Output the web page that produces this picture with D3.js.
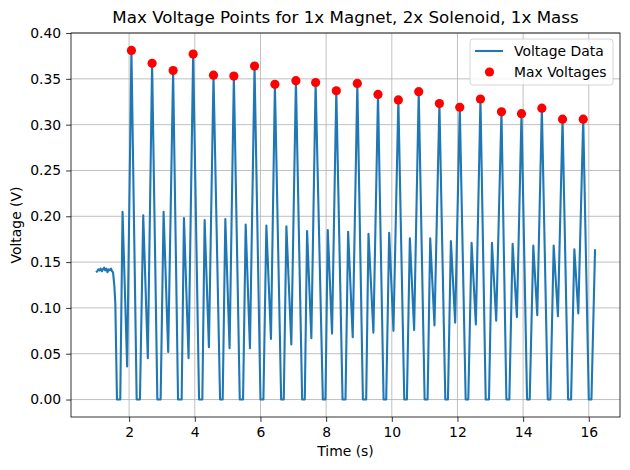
<!DOCTYPE html>
<html>
<head>
<meta charset="utf-8">
<script src="https://cdn.jsdelivr.net/npm/d3@7"></script>
<style>
  body { margin: 0; background: #fff; }
  svg { font-family: "DejaVu Sans", sans-serif; }
</style>
</head>
<body>
<div id="chart"></div>
<script>
// values

// noisy flat stretch before the magnet starts moving
var startTimes = [0.99, 1.03, 1.06, 1.10, 1.13, 1.17, 1.20, 1.24, 1.27, 1.31, 1.34, 1.38, 1.41, 1.45, 1.48, 1.51, 1.55, 1.58];
var startVolts = [0.139, 0.140, 0.142, 0.141, 0.143, 0.140, 0.142, 0.144, 0.141, 0.143, 0.139, 0.142, 0.141, 0.143, 0.140, 0.139, 0.124, 0.105];

// big peaks (these are also the red "max voltage" points)
var peakTimes = [2.07, 2.70, 3.34, 3.95, 4.57, 5.19, 5.82, 6.44, 7.08, 7.68, 8.31, 8.95,
                 9.58, 10.20, 10.82, 11.45, 12.07, 12.70, 13.34, 13.95, 14.57, 15.20, 15.83];
var peakVolts = [0.381, 0.367, 0.359, 0.377, 0.354, 0.353, 0.364, 0.344, 0.348, 0.346, 0.337, 0.345,
                 0.333, 0.327, 0.336, 0.323, 0.319, 0.328, 0.314, 0.312, 0.318, 0.306, 0.306];

// flat parts sitting on 0 V
var zeroStart = [1.63, 2.23, 2.86, 3.49, 4.13, 4.77, 5.37, 6.00, 6.63, 7.27, 7.90, 8.50,
                 9.12, 9.75, 10.38, 11.00, 11.63, 12.25, 12.86, 13.49, 14.12, 14.75, 15.37, 16.00];
var zeroEnd   = [1.73, 2.33, 2.96, 3.60, 4.23, 4.85, 5.47, 6.09, 6.71, 7.35, 7.98, 8.59,
                 9.22, 9.83, 10.46, 11.09, 11.71, 12.33, 12.96, 13.58, 14.20, 14.83, 15.46, 16.08];

// small peaks after each zero stretch (last one is the end of the record)
var smallTimes = [1.80, 2.43, 3.05, 3.67, 4.30, 4.93, 5.55, 6.18, 6.79, 7.42, 8.05, 8.67,
                  9.29, 9.92, 10.55, 11.17, 11.80, 12.43, 13.05, 13.68, 14.31, 14.93, 15.56, 16.19];
var smallVolts = [0.205, 0.201, 0.205, 0.198, 0.196, 0.197, 0.191, 0.190, 0.189, 0.184, 0.185, 0.183,
                  0.181, 0.182, 0.176, 0.176, 0.173, 0.171, 0.171, 0.170, 0.168, 0.168, 0.164, 0.164];

// dips between small peak and big peak
var dipTimes = [1.94, 2.57, 3.19, 3.81, 4.43, 5.06, 5.68, 6.32, 6.94, 7.55, 8.18, 8.81,
                9.44, 10.05, 10.68, 11.30, 11.93, 12.56, 13.18, 13.81, 14.43, 15.06, 15.68];
var dipVolts = [0.036, 0.045, 0.052, 0.045, 0.057, 0.056, 0.056, 0.066, 0.060, 0.067, 0.072, 0.068,
                0.073, 0.075, 0.076, 0.081, 0.084, 0.082, 0.086, 0.090, 0.092, 0.091, 0.094];

var yTicks = [0.00, 0.05, 0.10, 0.15, 0.20, 0.25, 0.30, 0.35, 0.40];
var xTicks = [2, 4, 6, 8, 10, 12, 14, 16];

// gather all the vertices of the trace and sort by time
var trace = [];
startTimes.forEach((t, i) => trace.push({t: t, v: startVolts[i]}));
peakTimes.forEach((t, i) => trace.push({t: t, v: peakVolts[i]}));
zeroStart.forEach(t => trace.push({t: t, v: 0}));
zeroEnd.forEach(t => trace.push({t: t, v: 0}));
smallTimes.forEach((t, i) => trace.push({t: t, v: smallVolts[i]}));
dipTimes.forEach((t, i) => trace.push({t: t, v: dipVolts[i]}));
trace.sort((a, b) => a.t - b.t);

var maxPts = peakTimes.map((t, i) => ({t: t, v: peakVolts[i]}));

var svgWidth = 630, svgHeight = 470;
var margin = {top: 33, right: 10, bottom: 53, left: 71};
var width = svgWidth - margin.left - margin.right;
var height = svgHeight - margin.top - margin.bottom;

var svg = d3.select("#chart").append("svg")
    .attr("width", svgWidth)
    .attr("height", svgHeight);

var chartGroup = svg.append("g")
    .attr("transform", `translate(${margin.left}, ${margin.top})`);

// matplotlib style 5% padding round the data
var tExt = d3.extent(trace, d => d.t);
var vExt = d3.extent(trace, d => d.v);
var tPad = (tExt[1] - tExt[0]) * 0.05;
var vPad = (vExt[1] - vExt[0]) * 0.05;

var xscale = d3.scaleLinear().domain([tExt[0] - tPad, tExt[1] + tPad]).range([0, width]);
var yscale = d3.scaleLinear().domain([vExt[0] - vPad, vExt[1] + vPad]).range([height, 0]);

// grid
chartGroup.append("g").selectAll("line").data(xTicks).enter().append("line")
    .attr("x1", d => xscale(d)).attr("x2", d => xscale(d))
    .attr("y1", 0).attr("y2", height)
    .attr("stroke", "#b0b0b0").attr("stroke-width", 0.8);
chartGroup.append("g").selectAll("line").data(yTicks).enter().append("line")
    .attr("y1", d => yscale(d)).attr("y2", d => yscale(d))
    .attr("x1", 0).attr("x2", width)
    .attr("stroke", "#b0b0b0").attr("stroke-width", 0.8);

// axes
var bottomAxis = d3.axisBottom(xscale).tickValues(xTicks).tickFormat(d3.format("d")).tickSize(4.9).tickPadding(4.9);
var leftAxis = d3.axisLeft(yscale).tickValues(yTicks).tickFormat(d3.format(".2f")).tickSize(4.9).tickPadding(4.9);

var xAxisG = chartGroup.append("g").attr("transform", `translate(0,${height})`).call(bottomAxis);
var yAxisG = chartGroup.append("g").call(leftAxis);
[xAxisG, yAxisG].forEach(g => {
    g.select(".domain").remove();
    g.selectAll("line").attr("stroke", "#000").attr("stroke-width", 0.8);
    g.selectAll("text").attr("fill", "#000").style("font-size", "13.9px").style("font-family", "DejaVu Sans");
});

// voltage trace
var line = d3.line().x(d => xscale(d.t)).y(d => yscale(d.v));
chartGroup.append("path")
    .datum(trace)
    .attr("d", line)
    .attr("fill", "none")
    .attr("stroke", "#1f77b4")
    .attr("stroke-width", 2.1)
    .attr("stroke-linejoin", "round")
    .attr("stroke-linecap", "butt");

// max voltage points
chartGroup.selectAll("circle.maxv").data(maxPts).enter().append("circle")
    .attr("class", "maxv")
    .attr("cx", d => xscale(d.t))
    .attr("cy", d => yscale(d.v))
    .attr("r", 4.6)
    .attr("fill", "red");

// frame
chartGroup.append("rect")
    .attr("width", width).attr("height", height)
    .attr("fill", "none").attr("stroke", "#000").attr("stroke-width", 0.8);

// legend
var legend = chartGroup.append("g").attr("transform", `translate(${width - 150}, 6)`);
legend.append("rect")
    .attr("width", 143).attr("height", 46)
    .attr("rx", 3)
    .attr("fill", "#fff").attr("fill-opacity", 0.8)
    .attr("stroke", "#cccccc").attr("stroke-width", 0.8);
legend.append("line")
    .attr("x1", 5).attr("x2", 33).attr("y1", 12).attr("y2", 12)
    .attr("stroke", "#1f77b4").attr("stroke-width", 2.1);
legend.append("circle")
    .attr("cx", 19.5).attr("cy", 33).attr("r", 4.6).attr("fill", "red");
legend.append("text").attr("x", 44).attr("y", 12).attr("dy", "0.35em")
    .style("font-size", "13.9px").text("Voltage Data");
legend.append("text").attr("x", 44).attr("y", 33).attr("dy", "0.35em")
    .style("font-size", "13.9px").text("Max Voltages");

// title and axis labels
svg.append("text")
    .attr("x", margin.left + width / 2).attr("y", 23)
    .attr("text-anchor", "middle")
    .style("font-size", "16.7px")
    .text("Max Voltage Points for 1x Magnet, 2x Solenoid, 1x Mass");
svg.append("text")
    .attr("x", margin.left + width / 2).attr("y", 456)
    .attr("text-anchor", "middle")
    .style("font-size", "13.9px")
    .text("Time (s)");
svg.append("text")
    .attr("transform", `translate(21, ${margin.top + height / 2}) rotate(-90)`)
    .attr("text-anchor", "middle")
    .style("font-size", "13.9px")
    .text("Voltage (V)");
</script>
</body>
</html>
